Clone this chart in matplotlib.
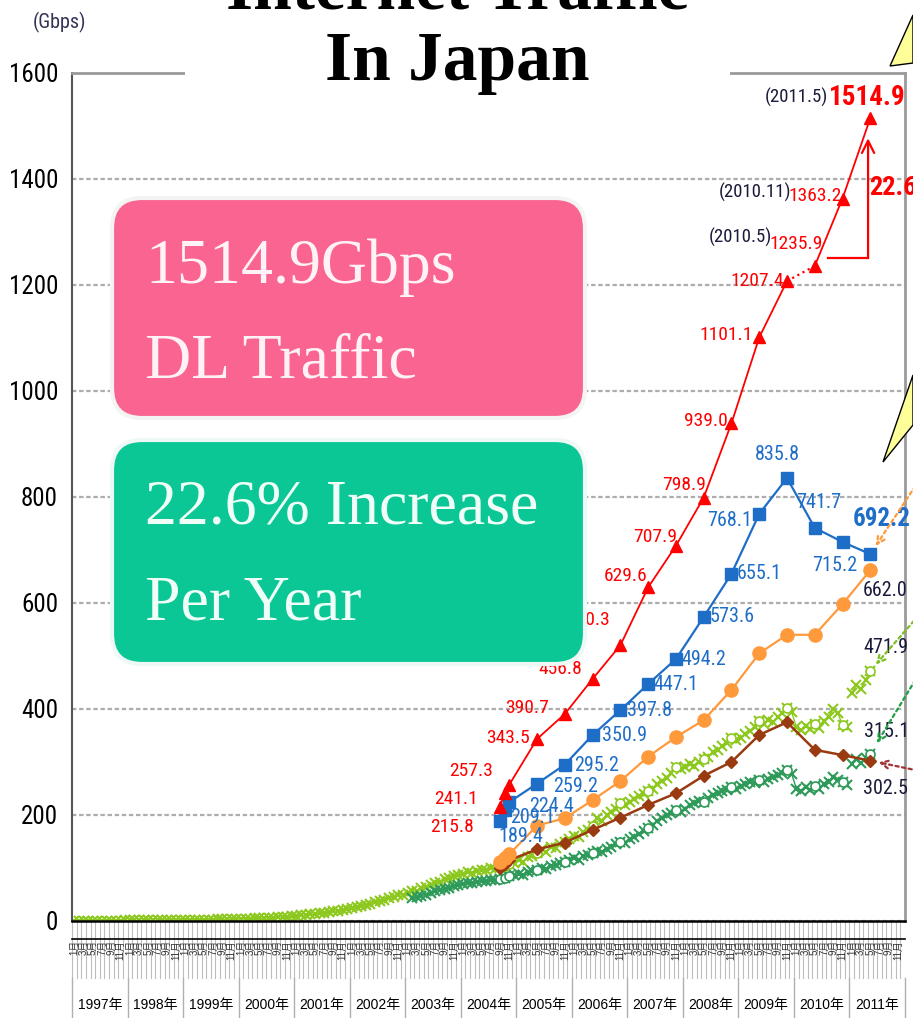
import matplotlib
matplotlib.use("Agg")
import matplotlib.pyplot as plt
from matplotlib import font_manager
from matplotlib.font_manager import FontProperties
from matplotlib.patches import FancyBboxPatch, Polygon, Rectangle

SANS = ["Liberation Sans", "Noto Sans CJK JP", "DejaVu Sans"]
SERIF = "Liberation Serif"


def _weight(fe):
    w = fe.weight
    if isinstance(w, str):
        return {"bold": 700, "semibold": 600, "demibold": 600, "heavy": 800, "black": 900}.get(w, 400)
    return int(w)


def find_narrow(bold=False):
    """Look for an installed narrow/condensed sans face."""
    best, best_score = None, None
    for fe in font_manager.fontManager.ttflist:
        nm = fe.name
        stretch = str(fe.stretch)
        cond = "Narrow" in nm or "Condensed" in nm or stretch in ("condensed", "semi-condensed")
        if not cond or "Mono" in nm or "Serif" in nm or fe.style != "normal":
            continue
        if (_weight(fe) >= 600) != bold or _weight(fe) > 750 or _weight(fe) < 350:
            continue
        score = 0
        if "Liberation Sans Narrow" in nm:
            score -= 10
        elif "Roboto" in nm:
            score -= 6
        elif "Noto Sans" in nm:
            score -= 5
        if stretch == "semi-condensed":
            score += 1
        if best_score is None or score < best_score:
            best, best_score = fe, score
    return best.fname if best else None


NARROW_FILE = find_narrow(False)
NARROW_BOLD_FILE = find_narrow(True)


def nf(size, bold=False):
    fname = NARROW_BOLD_FILE if bold else NARROW_FILE
    if fname:
        fp = FontProperties(fname=fname)
        fp.set_size(size)
    else:
        fp = FontProperties(family="Liberation Sans", weight="bold" if bold else "normal")
        fp.set_size(size * 0.85)
    return fp


# ---------------- data ----------------
survey_dates = [(2004, 9), (2004, 10), (2004, 11), (2005, 5), (2005, 11), (2006, 5), (2006, 11),
                (2007, 5), (2007, 11), (2008, 5), (2008, 11), (2009, 5), (2009, 11), (2010, 5),
                (2010, 11), (2011, 5)]
total_dl = [215.8, 241.1, 257.3, 343.5, 390.7, 456.8, 520.3, 629.6, 707.9, 798.9, 939.0,
            1101.1, 1207.4, 1235.9, 1363.2, 1514.9]
broadband_dl = [189.4, 209.1, 224.4, 259.2, 295.2, 350.9, 397.8, 447.1, 494.2, 573.6, 655.1,
                768.1, 835.8, 741.7, 715.2, 692.2]
other_dl = [112, 119, 126, 180, 194, 228, 264, 310, 347, 379, 436, 505, 540, 540, 598, 662.0]
broadband_ul = [100, 108, 115, 135, 148, 172, 195, 219, 241, 274, 300, 351, 375, 323, 313, 302.5]

ix_start = (1997, 1)
ix_monthly = [
    0.4, 0.5, 0.4, 0.6, 0.5, 0.7, 0.6, 0.8, 0.7, 0.9, 0.8, 1.0,
    1.0, 1.2, 1.1, 1.3, 1.2, 1.5, 1.4, 1.6, 1.5, 1.8, 1.7, 2.0,
    2.0, 2.3, 2.2, 2.5, 2.4, 2.8, 2.7, 3.0, 3.0, 3.4, 3.3, 3.8,
    4.0, 4.3, 4.6, 5.0, 5.3, 5.8, 6.2, 6.6, 7.2, 7.7, 8.4, 9.0,
    10.0, 10.6, 11.5, 12.3, 13.2, 14.5, 15.5, 16.4, 18.0, 19.2, 21.0, 22.8,
    25, 26, 29, 30, 33, 36, 38, 40, 44, 46, 49, 50,
    52, 56, 57, 62, 65, 68, 72, 74, 79, 82, 84, 87,
    88, 92, 90, 95, 97, 96, 100, 98, 103, 104, 108, 110,
    115, 112, 120, 122, 128, 135, 131, 140, 138, 146, 150, 155,
    160, 158, 168, 172, 180, 195, 188, 200, 205, 212, 222, 218,
    225, 230, 236, 240, 245, 250, 258, 265, 270, 280, 290, 286,
    290, 296, 292, 300, 305, 310, 318, 322, 330, 336, 345, 342,
    345, 352, 358, 366, 378, 372, 380, 376, 385, 392, 402, 395,
    366, 360, 368, 362, 372, 365, 378, 385, 400, 392, 370, 366,
]
ix_2011 = [430, 445, 438, 455, 471.9]

ix2_start = (2003, 2)
ix2_monthly = [
    43, 45, 48, 50, 53, 56, 58, 61, 63, 66, 68,
    70, 72, 71, 74, 76, 75, 78, 77, 80, 82, 84, 86,
    88, 87, 92, 94, 97, 100, 98, 104, 106, 110, 112, 116,
    118, 116, 122, 125, 128, 132, 130, 136, 140, 145, 150, 148,
    155, 158, 165, 170, 176, 182, 188, 195, 200, 204, 210, 206,
    212, 218, 222, 226, 225, 232, 238, 242, 245, 248, 252, 250,
    255, 258, 262, 260, 266, 262, 268, 272, 275, 280, 284, 278,
    250, 246, 252, 248, 254, 250, 258, 262, 272, 266, 262, 257,
]
ix2_2011 = [296, 305, 298, 308, 315.1]

years = list(range(1997, 2012))
label_months = [1, 3, 5, 7, 9, 11]
y_ticks = [0, 200, 400, 600, 800, 1000, 1200, 1400, 1600]

# ---------------- styles ----------------
RED = "#FF0000"
BLUE = "#1E6EC8"
ORANGE = "#FF9A3C"
BROWN = "#9A3A10"
LGREEN = "#8CC81E"
DGREEN = "#2E9A5A"
INK = "#1A1A3A"

red_off = [(-48, -20), (-49, -6), (-38, 14), (-29, 1), (-38, 6), (-32, 10), (-32, 25), (-23, 11),
           (-21, 9), (-20, 13), (-26, 2), (-33, 2), (-30, 0), (-19, 22), (-27, 3), (-3, 21)]
blue_off = [(21, -16), (28, -7), (42, -4), (38, -3), (32, -1), (32, 0), (29, 0), (28, 0), (28, 0),
            (28, 0), (28, 0), (-30, -7), (-10, 24), (4, 25), (-8, -24), (11, 35)]


def xpos(y, m):
    return y + (m - 0.5) / 12


def month_series(start, n):
    y0, m0 = start
    out = []
    for i in range(n):
        k = m0 - 1 + i
        out.append(xpos(y0 + k // 12, k % 12 + 1))
    return out


def build():
    fig = plt.figure(figsize=(9.13, 10.18), dpi=100)
    fig.patch.set_facecolor("white")
    ax = fig.add_axes([72 / 913, 97 / 1018, 833 / 913, 848 / 1018])
    ax.set_xlim(1997, 2012)
    ax.set_ylim(0, 1600)

    def f(py):  # pixel row -> axes fraction
        return (921 - py) / 848

    # axes styling
    ax.set_xticks([])
    ax.set_yticks(y_ticks)
    ax.set_yticklabels([str(v) for v in y_ticks], fontproperties=nf(18))
    ax.tick_params(axis="y", length=0, pad=10)
    ax.yaxis.grid(True, linestyle=(0, (2, 1.2)), color="#ADADAD", lw=1.6)
    ax.set_axisbelow(True)
    ax.spines["left"].set_color("#555555")
    ax.spines["left"].set_linewidth(1.5)
    ax.spines["bottom"].set_color("black")
    ax.spines["bottom"].set_linewidth(1.8)
    for s in ("top", "right"):
        ax.spines[s].set_color("#9A9A9A")
        ax.spines[s].set_linewidth(2)

    # category axis area (months / years)
    tr = ax.get_xaxis_transform()
    for y in years:
        for k in range(12):
            ax.plot([y + k / 12] * 2, [f(978), 0], transform=tr, color="#BDBDBD", lw=0.8,
                    clip_on=False, zorder=1)
        for m in label_months:
            ax.text(xpos(y, m), f(940), f"{m}月", rotation=90, ha="center", va="top",
                    fontsize=7, family=SANS, color="#333333", transform=tr, clip_on=False)
        ax.text(y + 0.5, f(1005), f"{y}年", ha="center", va="center", fontsize=10,
                family=SANS, transform=tr, clip_on=False)
    for y in years + [years[-1] + 1]:
        ax.plot([y, y], [f(1018), f(978)], transform=tr, color="#B0B0B0", lw=1, clip_on=False)
    ax.plot([1997, 2012], [f(939)] * 2, transform=tr, color="black", lw=1.2, clip_on=False)

    sx = [xpos(y, m) for y, m in survey_dates]

    # monthly IX series
    ix_x = month_series(ix_start, len(ix_monthly))
    ix_x11 = month_series((2011, 1), len(ix_2011))
    ix2_x = month_series(ix2_start, len(ix2_monthly))
    ix2_x11 = month_series((2011, 1), len(ix2_2011))
    for xs, ys, col in ((ix_x, ix_monthly, LGREEN), (ix_x11, ix_2011, LGREEN),
                        (ix2_x, ix2_monthly, DGREEN), (ix2_x11, ix2_2011, DGREEN)):
        ax.plot(xs, ys, color=col, lw=1.0, marker="x", ms=6.5, mew=1.5, zorder=2)
    for xs, ys, col, start in ((ix_x, ix_monthly, LGREEN, ix_start), (ix_x11, ix_2011, LGREEN, (2011, 1)),
                               (ix2_x, ix2_monthly, DGREEN, ix2_start), (ix2_x11, ix2_2011, DGREEN, (2011, 1))):
        cx, cy = [], []
        for i, (xx, yy) in enumerate(zip(xs, ys)):
            k = start[1] - 1 + i
            if (start[0] + k // 12, k % 12 + 1) in survey_dates:
                cx.append(xx)
                cy.append(yy)
        ax.plot(cx, cy, linestyle="none", marker="o", ms=6.5, mfc="white", mec=col, mew=1.2, zorder=2.2)

    # survey series
    ax.plot(sx, broadband_ul, color=BROWN, lw=1.8, marker="D", ms=6.5, zorder=3)
    ax.plot(sx, other_dl, color=ORANGE, lw=1.6, marker="o", ms=9.5, zorder=3.2)
    ax.plot(sx, broadband_dl, color=BLUE, lw=1.6, marker="s", ms=8.5, zorder=3.4)
    ax.plot(sx[:13], total_dl[:13], color=RED, lw=1.3, zorder=3.6)
    ax.plot(sx[12:14], total_dl[12:14], color=RED, lw=1.6, ls=":", zorder=3.6)
    ax.plot(sx[13:], total_dl[13:], color=RED, lw=1.3, zorder=3.6)
    ax.plot(sx, total_dl, linestyle="none", color=RED, marker="^", ms=9, zorder=3.7)

    # value labels
    for i, (xx, v) in enumerate(zip(sx, total_dl)):
        last = i == len(sx) - 1
        ax.annotate(f"{v:.1f}", (xx, v), xytext=red_off[i], textcoords="offset pixels",
                    ha="center", va="center", color=RED,
                    fontproperties=nf(19.5 if last else 14, bold=last),
                    annotation_clip=False, zorder=4)
    for i, (xx, v) in enumerate(zip(sx, broadband_dl)):
        last = i == len(sx) - 1
        ax.annotate(f"{v:.1f}", (xx, v), xytext=blue_off[i], textcoords="offset pixels",
                    ha="center", va="center", color=BLUE,
                    fontproperties=nf(18 if last else 14.5, bold=last),
                    annotation_clip=False, zorder=4)

    # survey date notes
    for idx, off in ((15, (-74, 21)), (14, (-88, 6)), (13, (-74, 29))):
        y, m = survey_dates[idx]
        ax.annotate(f"({y}.{m})", (sx[idx], total_dl[idx]), xytext=off, textcoords="offset pixels",
                    ha="center", va="center", color=INK, fontproperties=nf(13.5), zorder=4)

    # last-point labels with incoming dotted arrows
    ends = [
        ((sx[-1], other_dl[-1]), (15, -20)),
        ((ix_x11[-1], ix_2011[-1]), (16, 23)),
        ((ix2_x11[-1], ix2_2011[-1]), (16, 22)),
        ((sx[-1], broadband_ul[-1]), (15, -28)),
    ]
    for xy, off in ends:
        ax.annotate(f"{xy[1]:.1f}", xy, xytext=off, textcoords="offset pixels",
                    ha="center", va="center", color=INK, fontproperties=nf(14.5),
                    annotation_clip=False, zorder=4)

    arrows = [
        ((sx[-1], broadband_dl[-1]), (45, 68), ORANGE, 7),
        ((ix_x11[-1], ix_2011[-1]), (48, 55), "#7DBE22", 6),
        ((ix2_x11[-1], ix2_2011[-1]), (45, 74), "#1FA043", 9),
        ((sx[-1], broadband_ul[-1]), (48, -10), "#A33333", 6),
    ]
    for xy, off, col, shr in arrows:
        ax.annotate("", xy, xytext=off, textcoords="offset pixels",
                    arrowprops=dict(arrowstyle="->", linestyle=(0, (1.5, 1.5)), color=col, lw=1.6,
                                    shrinkA=0, shrinkB=shr, mutation_scale=14),
                    annotation_clip=False, zorder=4)

    # growth bracket
    xb = sx[13] + 0.24
    xv = sx[15] - 0.04
    yb = total_dl[13] + 15
    yt = total_dl[15] - 38
    ax.plot([xb, xv], [yb, yb], color=RED, lw=1.6, zorder=4, clip_on=False)
    ax.annotate("", (xv, yt), xytext=(xv, yb),
                arrowprops=dict(arrowstyle="->", color=RED, lw=1.6, shrinkA=0, shrinkB=0,
                                mutation_scale=22), annotation_clip=False, zorder=4)
    ax.text(xv + 0.02, (yb + yt) / 2 + 20, "22.6%", ha="left", va="center", color=RED,
            fontproperties=nf(19, bold=True), clip_on=False, zorder=4)

    # ---------------- overlay in pixel coordinates ----------------
    ov = fig.add_axes([0, 0, 1, 1], zorder=5)
    ov.set_xlim(0, 913)
    ov.set_ylim(1018, 0)
    ov.set_axis_off()
    ov.patch.set_alpha(0)

    ov.add_patch(Rectangle((185, 0), 545, 86, facecolor="white", edgecolor="none"))
    ov.text(457, 8, "Internet Traffic", ha="center", va="baseline", fontsize=50,
            fontweight="bold", family=SERIF)
    ov.text(457, 80, "In Japan", ha="center", va="baseline", fontsize=50,
            fontweight="bold", family=SERIF)
    ov.text(60, 22, "(Gbps)", ha="center", va="center", fontproperties=nf(14.5), color="#333355")

    ov.add_patch(FancyBboxPatch((112, 198), 473, 220, boxstyle="round,pad=0,rounding_size=30",
                                facecolor="#FA6491", edgecolor="#F4F4F4", lw=3))
    ov.add_patch(FancyBboxPatch((112, 440), 473, 224, boxstyle="round,pad=0,rounding_size=30",
                                facecolor="#0BC795", edgecolor="#EEF8F4", lw=3))
    for yb_, txt, col in ((283, "1514.9Gbps", "#FFF2F6"), (378, "DL Traffic", "#FFF2F6"),
                          (523, "22.6% Increase", "#EFFFF8"), (620, "Per Year", "#EFFFF8")):
        ov.text(145, yb_, txt, ha="left", va="baseline", fontsize=46, family=SERIF, color=col)

    ov.add_patch(Polygon([(890, 66), (913, 15), (913, 63)], closed=True, facecolor="#FFFF99",
                         edgecolor="black", lw=1))
    ov.add_patch(Polygon([(883, 462), (913, 375), (913, 425)], closed=True, facecolor="#FFFF99",
                         edgecolor="black", lw=1))

    fig.savefig("out.png", dpi=100, facecolor="white")
    plt.close(fig)


if __name__ == "__main__":
    build()
